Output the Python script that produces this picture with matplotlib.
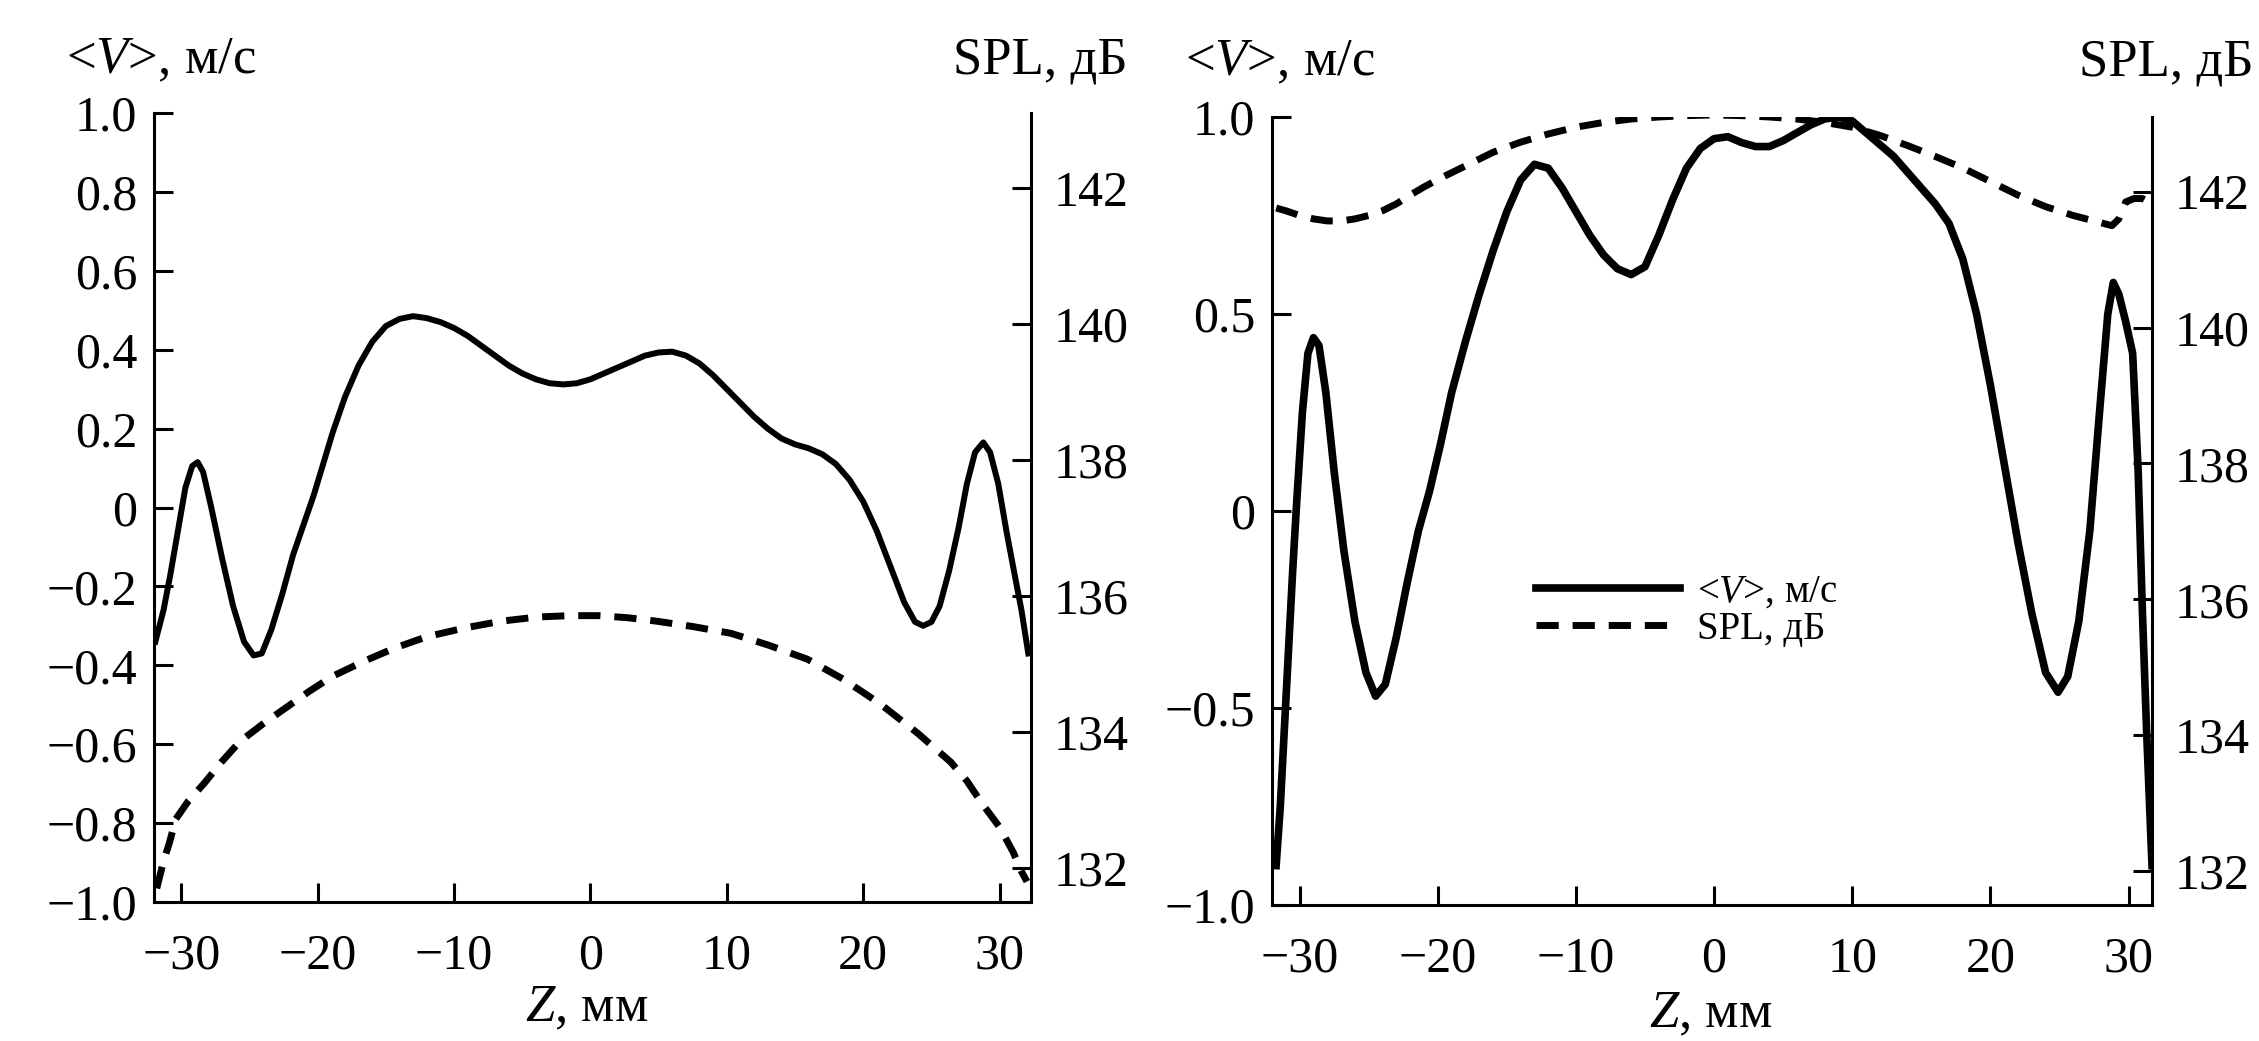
import numpy as np
import matplotlib.pyplot as plt

plt.rcParams['font.family'] = ['Liberation Serif', 'DejaVu Serif']
plt.rcParams['mathtext.fontset'] = 'custom'
plt.rcParams['mathtext.rm'] = 'Liberation Serif'
plt.rcParams['mathtext.it'] = 'Liberation Serif:italic'

# --- left panel: mean velocity <V> (m/s) vs Z (mm)
z_v_left = [-31.9, -31.3, -30.8, -30.2, -29.7, -29.2, -28.8, -28.4, -27.8, -27.0,
            -26.2, -25.4, -24.7, -24.1, -23.4, -22.6, -21.8, -21.0, -20.3, -19.6,
            -18.9, -18.0, -17.0, -16.0, -15.0, -14.0, -13.0, -12.0, -11.0, -10.0,
            -9.0, -8.0, -7.0, -6.0, -5.0, -4.0, -3.0, -2.0, -1.0, 0.0,
            1.0, 2.0, 3.0, 4.0, 5.0, 6.0, 7.0, 8.0, 9.0, 10.0,
            11.0, 12.0, 13.0, 14.0, 15.0, 16.0, 17.0, 18.0, 19.0, 20.0,
            21.0, 22.0, 23.0, 23.8, 24.4, 25.0, 25.6, 26.3, 27.0, 27.6,
            28.2, 28.8, 29.3, 29.9, 30.5, 31.1, 31.6, 32.1]
v_left = [-0.34, -0.26, -0.17, -0.05, 0.05, 0.105, 0.115, 0.09, 0.0, -0.13,
          -0.25, -0.34, -0.375, -0.37, -0.31, -0.22, -0.12, -0.04, 0.03, 0.11,
          0.19, 0.28, 0.36, 0.42, 0.46, 0.478, 0.485, 0.48, 0.47, 0.455,
          0.435, 0.41, 0.385, 0.36, 0.34, 0.325, 0.315, 0.312, 0.315, 0.325,
          0.34, 0.355, 0.37, 0.385, 0.393, 0.395, 0.385, 0.365, 0.335, 0.30,
          0.265, 0.23, 0.20, 0.175, 0.16, 0.15, 0.135, 0.11, 0.07, 0.015,
          -0.06, -0.15, -0.24, -0.29, -0.30, -0.29, -0.25, -0.16, -0.05, 0.06,
          0.14, 0.165, 0.14, 0.06, -0.06, -0.17, -0.26, -0.37]

# --- left panel: SPL (dB) vs Z (mm)
z_spl_left = [-31.8, -31.3, -30.9, -30.4, -29.5, -28.3, -27.0, -25.7, -24.0, -22.3,
              -20.6, -18.9, -16.6, -14.4, -12.0, -9.2, -6.5, -3.9, -1.5, 0.6,
              2.7, 4.8, 7.5, 10.3, 13.0, 15.9, 18.5, 21.2, 24.0, 26.4,
              27.6, 28.7, 30.0, 31.0, 31.6, 32.0]
spl_left = [131.7, 132.1, 132.35, 132.72, 132.98, 133.25, 133.57, 133.86, 134.12, 134.36,
            134.6, 134.82, 135.04, 135.23, 135.4, 135.53, 135.63, 135.69, 135.71, 135.71,
            135.68, 135.63, 135.55, 135.45, 135.28, 135.07, 134.78, 134.42, 133.98, 133.56,
            133.28, 132.95, 132.6, 132.23, 131.95, 131.8]

# --- right panel: mean velocity <V> (m/s) vs Z (mm)
z_v_right = [-31.7, -31.4, -31.1, -30.8, -30.5, -30.2, -29.8, -29.4, -29.0, -28.6,
             -28.1, -27.5, -26.8, -26.0, -25.2, -24.5, -23.8, -23.0, -22.2, -21.4,
             -20.6, -19.8, -19.0, -18.0, -17.0, -16.0, -15.0, -14.0, -13.0, -12.0,
             -11.0, -10.0, -9.0, -8.0, -7.0, -6.0, -5.0, -4.0, -3.0, -2.0,
             -1.0, 0.0, 1.0, 2.0, 3.0, 4.0, 5.0, 6.0, 7.0, 8.0,
             9.0, 10.0, 11.0, 12.0, 13.0, 14.0, 15.0, 16.0, 17.0, 18.0,
             19.0, 20.0, 21.0, 22.0, 23.0, 24.0, 24.9, 25.6, 26.4, 27.2,
             27.9, 28.5, 28.9, 29.3, 29.8, 30.3, 30.7, 31.0, 31.3, 31.7]
v_right = [-0.90, -0.75, -0.55, -0.35, -0.15, 0.03, 0.25, 0.40, 0.44, 0.42,
           0.30, 0.10, -0.10, -0.28, -0.41, -0.47, -0.44, -0.32, -0.18, -0.05,
           0.05, 0.17, 0.30, 0.43, 0.55, 0.66, 0.76, 0.84, 0.88, 0.87,
           0.82, 0.76, 0.70, 0.65, 0.615, 0.60, 0.62, 0.70, 0.79, 0.87,
           0.92, 0.945, 0.95, 0.935, 0.925, 0.925, 0.94, 0.96, 0.98, 0.995,
           1.0, 0.99, 0.96, 0.93, 0.90, 0.86, 0.82, 0.78, 0.73, 0.64,
           0.50, 0.32, 0.12, -0.08, -0.26, -0.41, -0.46, -0.42, -0.28, -0.05,
           0.25, 0.50, 0.58, 0.55, 0.48, 0.40, 0.10, -0.25, -0.55, -0.90]

# --- right panel: SPL (dB) vs Z (mm)
z_spl_right = [-31.7, -31.0, -30.0, -29.0, -28.0, -27.0, -26.0, -25.0, -24.0, -23.0,
               -22.0, -21.0, -20.0, -18.0, -16.0, -14.0, -12.0, -10.0, -8.0, -6.0,
               -4.0, -2.0, 0.0, 2.0, 4.0, 6.0, 8.0, 10.0, 12.0, 14.0,
               16.0, 18.0, 20.0, 22.0, 24.0, 26.0, 27.5, 28.8, 29.3, 29.8,
               30.4, 31.0, 31.7]
spl_right = [141.76, 141.72, 141.65, 141.6, 141.57, 141.57, 141.6, 141.65, 141.72, 141.82,
             141.95, 142.07, 142.18, 142.38, 142.58, 142.73, 142.85, 142.95, 143.02, 143.07,
             143.1, 143.12, 143.13, 143.12, 143.1, 143.07, 143.02, 142.95, 142.83, 142.68,
             142.52, 142.35, 142.15, 141.95, 141.78, 141.65, 141.57, 141.5, 141.6, 141.85,
             141.9, 141.9, 141.82]

x_ticks = [-30, -20, -10, 0, 10, 20, 30]
x_labels = ['\u221230', '\u221220', '\u221210', '0', '10', '20', '30']
v_ticks_left = [1.0, 0.8, 0.6, 0.4, 0.2, 0.0, -0.2, -0.4, -0.6, -0.8, -1.0]
v_labels_left = ['1.0', '0.8', '0.6', '0.4', '0.2', '0',
                 '\u22120.2', '\u22120.4', '\u22120.6', '\u22120.8', '\u22121.0']
v_ticks_right = [1.0, 0.5, 0.0, -0.5, -1.0]
v_labels_right = ['1.0', '0.5', '0', '\u22120.5', '\u22121.0']
spl_ticks = [132, 134, 136, 138, 140, 142]

V_LABEL = '<$V$>, м/с'
SPL_LABEL = 'SPL, дБ'
Z_LABEL = '$Z$, мм'

W, H = 2259, 1041
fig = plt.figure(figsize=(W / 100, H / 100), dpi=100)
fig.patch.set_facecolor('white')

FS = 36
LABEL_FS = 38
DASH = (3.2, 2.0)


def add_px_axes(x0, y0, x1, y1):
    return fig.add_axes([x0 / W, 1 - y1 / H, (x1 - x0) / W, (y1 - y0) / H])


def setup_panel(ax, xlim, vticks, vlabels):
    ax2 = ax.twinx()
    ax.set_xlim(*xlim)
    ax.set_ylim(-1.0, 1.0)
    ax2.set_ylim(131.5, 143.1)
    ax.set_xticks(x_ticks)
    ax.set_xticklabels(x_labels)
    ax.set_yticks(vticks)
    ax.set_yticklabels(vlabels)
    ax2.set_yticks(spl_ticks)
    ax2.set_yticklabels([str(t) for t in spl_ticks])
    ax.spines['top'].set_visible(False)
    ax.spines['right'].set_visible(False)
    for s in ('top', 'left', 'bottom'):
        ax2.spines[s].set_visible(False)
    for a in (ax, ax2):
        for s in a.spines.values():
            s.set_linewidth(2.2)
    ax.tick_params(axis='x', direction='in', length=14, width=2.2, labelsize=FS, pad=22)
    ax.tick_params(axis='y', direction='in', length=14, width=2.2, labelsize=FS, pad=12)
    ax2.tick_params(axis='y', direction='in', length=14, width=2.2, labelsize=FS, pad=16)
    ax.set_facecolor('none')
    return ax2


# left panel
axl = add_px_axes(154, 113, 1031, 902)
axl2 = setup_panel(axl, (-32.0, 32.3), v_ticks_left, v_labels_left)
axl.plot(z_v_left, v_left, color='black', lw=4.3, solid_joinstyle='round')
axl2.plot(z_spl_left, spl_left, color='black', lw=5, dashes=DASH)

# right panel
axr = add_px_axes(1272, 117, 2152, 905)
axr2 = setup_panel(axr, (-32.0, 31.7), v_ticks_right, v_labels_right)
l1, = axr.plot(z_v_right, v_right, color='black', lw=5.5, solid_joinstyle='round')
l2, = axr2.plot(z_spl_right, spl_right, color='black', lw=5, dashes=DASH)

leg = axr2.legend([l1, l2], [V_LABEL, SPL_LABEL], loc='upper left',
                  bbox_to_anchor=(1536 / W, 1 - 574 / H), bbox_transform=fig.transFigure,
                  frameon=False, fontsize=28, handlelength=3.7, handletextpad=0.45,
                  labelspacing=0.0, borderpad=0, borderaxespad=0)

# axis captions
fig.text(66 / W, 1 - 60 / H, V_LABEL, fontsize=LABEL_FS, ha='left', va='center')
fig.text(1128 / W, 1 - 60 / H, SPL_LABEL, fontsize=LABEL_FS, ha='right', va='center')
fig.text(1185 / W, 1 - 62 / H, V_LABEL, fontsize=LABEL_FS, ha='left', va='center')
fig.text(2254 / W, 1 - 62 / H, SPL_LABEL, fontsize=LABEL_FS, ha='right', va='center')
fig.text(587 / W, 1 - 1008 / H, Z_LABEL, fontsize=LABEL_FS, ha='center', va='center')
fig.text(1711 / W, 1 - 1014 / H, Z_LABEL, fontsize=LABEL_FS, ha='center', va='center')

fig.savefig('out.png', dpi=100, facecolor='white')
